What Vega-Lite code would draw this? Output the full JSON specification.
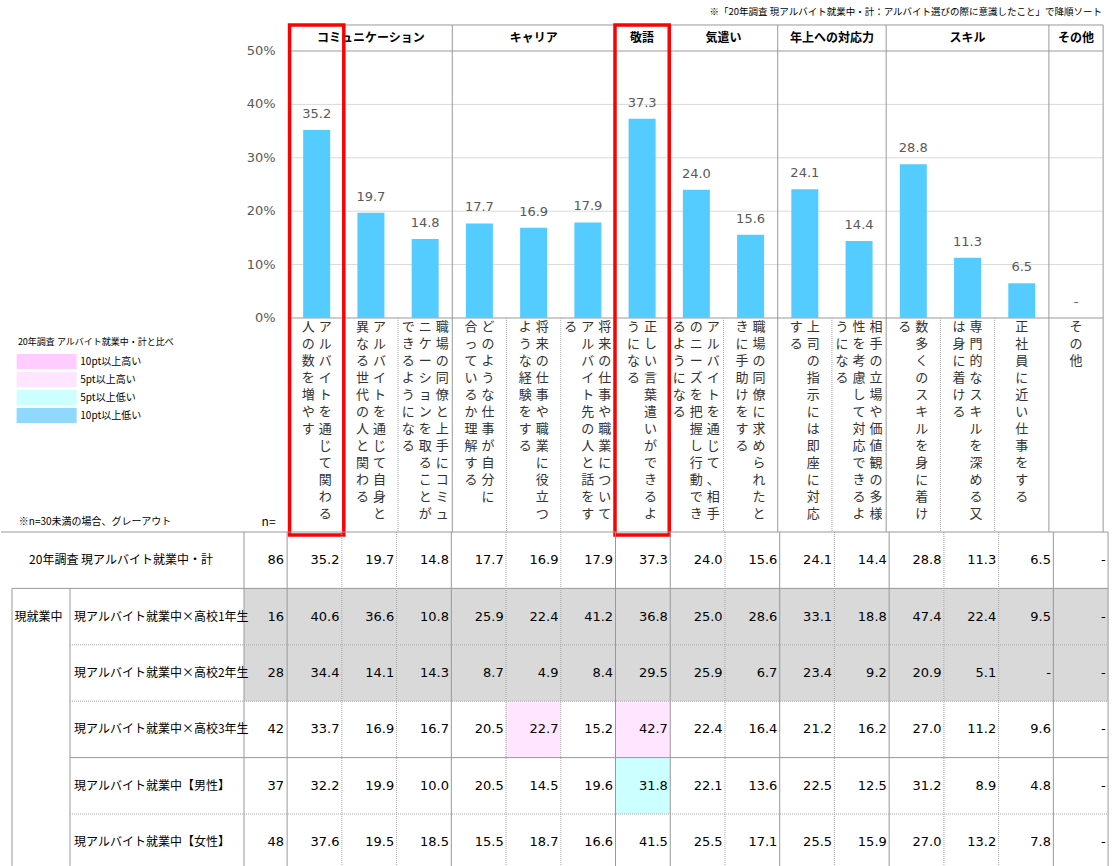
{
  "$schema": "https://vega.github.io/schema/vega-lite/v6.json",
  "padding": 0,
  "autosize": {"type": "pad"},
  "spacing": 0,
  "bounds": "flush",
  "background": "white",
  "config": {
    "view": {"stroke": null},
    "axis": {"disable": true},
    "text": {"font": "Noto Sans CJK JP"}
  },
  "datasets": {
    "items": [
      {"i": 0, "cat": "コミュニケーション", "item": "アルバイトを通じて関わる人の数を増やす"},
      {"i": 1, "cat": "コミュニケーション", "item": "アルバイトを通じて自身と異なる世代の人と関わる"},
      {"i": 2, "cat": "コミュニケーション", "item": "職場の同僚と上手にコミュニケーションを取ることができるようになる"},
      {"i": 3, "cat": "キャリア", "item": "どのような仕事が自分に合っているか理解する"},
      {"i": 4, "cat": "キャリア", "item": "将来の仕事や職業に役立つような経験をする"},
      {"i": 5, "cat": "キャリア", "item": "将来の仕事や職業についてアルバイト先の人と話をする"},
      {"i": 6, "cat": "敬語", "item": "正しい言葉遣いができるようになる"},
      {"i": 7, "cat": "気遣い", "item": "アルバイトを通じて、相手のニーズを把握し行動できるようになる"},
      {"i": 8, "cat": "気遣い", "item": "職場の同僚に求められたときに手助けをする"},
      {"i": 9, "cat": "年上への対応力", "item": "上司の指示には即座に対応する"},
      {"i": 10, "cat": "年上への対応力", "item": "相手の立場や価値観の多様性を考慮して対応できるようになる"},
      {"i": 11, "cat": "スキル", "item": "数多くのスキルを身に着ける"},
      {"i": 12, "cat": "スキル", "item": "専門的なスキルを深める又は身に着ける"},
      {"i": 13, "cat": "スキル", "item": "正社員に近い仕事をする"},
      {"i": 14, "cat": "その他", "item": "その他"}
    ],
    "vlabels": [
      {"i": 0, "n": 2, "k": 0, "t": "ア\nル\nバ\nイ\nト\nを\n通\nじ\nて\n関\nわ\nる"},
      {"i": 0, "n": 2, "k": 1, "t": "人\nの\n数\nを\n増\nや\nす"},
      {"i": 1, "n": 2, "k": 0, "t": "ア\nル\nバ\nイ\nト\nを\n通\nじ\nて\n自\n身\nと"},
      {"i": 1, "n": 2, "k": 1, "t": "異\nな\nる\n世\n代\nの\n人\nと\n関\nわ\nる"},
      {"i": 2, "n": 3, "k": 0, "t": "職\n場\nの\n同\n僚\nと\n上\n手\nに\nコ\nミ\nュ"},
      {"i": 2, "n": 3, "k": 1, "t": "ニ\nケ\nー\nシ\nョ\nン\nを\n取\nる\nこ\nと\nが"},
      {"i": 2, "n": 3, "k": 2, "t": "で\nき\nる\nよ\nう\nに\nな\nる"},
      {"i": 3, "n": 2, "k": 0, "t": "ど\nの\nよ\nう\nな\n仕\n事\nが\n自\n分\nに"},
      {"i": 3, "n": 2, "k": 1, "t": "合\nっ\nて\nい\nる\nか\n理\n解\nす\nる"},
      {"i": 4, "n": 2, "k": 0, "t": "将\n来\nの\n仕\n事\nや\n職\n業\nに\n役\n立\nつ"},
      {"i": 4, "n": 2, "k": 1, "t": "よ\nう\nな\n経\n験\nを\nす\nる"},
      {"i": 5, "n": 3, "k": 0, "t": "将\n来\nの\n仕\n事\nや\n職\n業\nに\nつ\nい\nて"},
      {"i": 5, "n": 3, "k": 1, "t": "ア\nル\nバ\nイ\nト\n先\nの\n人\nと\n話\nを\nす"},
      {"i": 5, "n": 3, "k": 2, "t": "る"},
      {"i": 6, "n": 2, "k": 0, "t": "正\nし\nい\n言\n葉\n遣\nい\nが\nで\nき\nる\nよ"},
      {"i": 6, "n": 2, "k": 1, "t": "う\nに\nな\nる"},
      {"i": 7, "n": 3, "k": 0, "t": "ア\nル\nバ\nイ\nト\nを\n通\nじ\nて\n、\n相\n手"},
      {"i": 7, "n": 3, "k": 1, "t": "の\nニ\nー\nズ\nを\n把\n握\nし\n行\n動\nで\nき"},
      {"i": 7, "n": 3, "k": 2, "t": "る\nよ\nう\nに\nな\nる"},
      {"i": 8, "n": 2, "k": 0, "t": "職\n場\nの\n同\n僚\nに\n求\nめ\nら\nれ\nた\nと"},
      {"i": 8, "n": 2, "k": 1, "t": "き\nに\n手\n助\nけ\nを\nす\nる"},
      {"i": 9, "n": 2, "k": 0, "t": "上\n司\nの\n指\n示\nに\nは\n即\n座\nに\n対\n応"},
      {"i": 9, "n": 2, "k": 1, "t": "す\nる"},
      {"i": 10, "n": 3, "k": 0, "t": "相\n手\nの\n立\n場\nや\n価\n値\n観\nの\n多\n様"},
      {"i": 10, "n": 3, "k": 1, "t": "性\nを\n考\n慮\nし\nて\n対\n応\nで\nき\nる\nよ"},
      {"i": 10, "n": 3, "k": 2, "t": "う\nに\nな\nる"},
      {"i": 11, "n": 2, "k": 0, "t": "数\n多\nく\nの\nス\nキ\nル\nを\n身\nに\n着\nけ"},
      {"i": 11, "n": 2, "k": 1, "t": "る"},
      {"i": 12, "n": 2, "k": 0, "t": "専\n門\n的\nな\nス\nキ\nル\nを\n深\nめ\nる\n又"},
      {"i": 12, "n": 2, "k": 1, "t": "は\n身\nに\n着\nけ\nる"},
      {"i": 13, "n": 1, "k": 0, "t": "正\n社\n員\nに\n近\nい\n仕\n事\nを\nす\nる"},
      {"i": 14, "n": 1, "k": 0, "t": "そ\nの\n他"}
    ],
    "rows": [
      {"r": 0, "label": "20年調査 現アルバイト就業中・計", "n": 86},
      {"r": 1, "label": "現アルバイト就業中×高校1年生", "n": 16, "grp": "現就業中"},
      {"r": 2, "label": "現アルバイト就業中×高校2年生", "n": 28},
      {"r": 3, "label": "現アルバイト就業中×高校3年生", "n": 42},
      {"r": 4, "label": "現アルバイト就業中【男性】", "n": 37},
      {"r": 5, "label": "現アルバイト就業中【女性】", "n": 48}
    ],
    "edges": [
      {"e": -0.5, "k": "cat"}, {"e": 0.5, "k": "item"}, {"e": 1.5, "k": "item"}, {"e": 2.5, "k": "cat"},
      {"e": 3.5, "k": "item"}, {"e": 4.5, "k": "item"}, {"e": 5.5, "k": "cat"}, {"e": 6.5, "k": "cat"},
      {"e": 7.5, "k": "item"}, {"e": 8.5, "k": "cat"}, {"e": 9.5, "k": "item"}, {"e": 10.5, "k": "cat"},
      {"e": 11.5, "k": "item"}, {"e": 12.5, "k": "item"}, {"e": 13.5, "k": "cat"}, {"e": 14.5, "k": "cat"}
    ],
    "ticks": [
      {"v": 0, "t": "0%"}, {"v": 10, "t": "10%"}, {"v": 20, "t": "20%"},
      {"v": 30, "t": "30%"}, {"v": 40, "t": "40%"}, {"v": 50, "t": "50%"}
    ],
    "cells": [
      {"r": 0, "i": 0, "v": 35.2}, {"r": 0, "i": 1, "v": 19.7}, {"r": 0, "i": 2, "v": 14.8}, {"r": 0, "i": 3, "v": 17.7}, {"r": 0, "i": 4, "v": 16.9},
      {"r": 0, "i": 5, "v": 17.9}, {"r": 0, "i": 6, "v": 37.3}, {"r": 0, "i": 7, "v": 24.0}, {"r": 0, "i": 8, "v": 15.6}, {"r": 0, "i": 9, "v": 24.1},
      {"r": 0, "i": 10, "v": 14.4}, {"r": 0, "i": 11, "v": 28.8}, {"r": 0, "i": 12, "v": 11.3}, {"r": 0, "i": 13, "v": 6.5}, {"r": 0, "i": 14, "v": null},
      {"r": 1, "i": 0, "v": 40.6}, {"r": 1, "i": 1, "v": 36.6}, {"r": 1, "i": 2, "v": 10.8}, {"r": 1, "i": 3, "v": 25.9}, {"r": 1, "i": 4, "v": 22.4},
      {"r": 1, "i": 5, "v": 41.2}, {"r": 1, "i": 6, "v": 36.8}, {"r": 1, "i": 7, "v": 25.0}, {"r": 1, "i": 8, "v": 28.6}, {"r": 1, "i": 9, "v": 33.1},
      {"r": 1, "i": 10, "v": 18.8}, {"r": 1, "i": 11, "v": 47.4}, {"r": 1, "i": 12, "v": 22.4}, {"r": 1, "i": 13, "v": 9.5}, {"r": 1, "i": 14, "v": null},
      {"r": 2, "i": 0, "v": 34.4}, {"r": 2, "i": 1, "v": 14.1}, {"r": 2, "i": 2, "v": 14.3}, {"r": 2, "i": 3, "v": 8.7}, {"r": 2, "i": 4, "v": 4.9},
      {"r": 2, "i": 5, "v": 8.4}, {"r": 2, "i": 6, "v": 29.5}, {"r": 2, "i": 7, "v": 25.9}, {"r": 2, "i": 8, "v": 6.7}, {"r": 2, "i": 9, "v": 23.4},
      {"r": 2, "i": 10, "v": 9.2}, {"r": 2, "i": 11, "v": 20.9}, {"r": 2, "i": 12, "v": 5.1}, {"r": 2, "i": 13, "v": null}, {"r": 2, "i": 14, "v": null},
      {"r": 3, "i": 0, "v": 33.7}, {"r": 3, "i": 1, "v": 16.9}, {"r": 3, "i": 2, "v": 16.7}, {"r": 3, "i": 3, "v": 20.5}, {"r": 3, "i": 4, "v": 22.7, "cmp": "5pt以上高い"},
      {"r": 3, "i": 5, "v": 15.2}, {"r": 3, "i": 6, "v": 42.7, "cmp": "5pt以上高い"}, {"r": 3, "i": 7, "v": 22.4}, {"r": 3, "i": 8, "v": 16.4}, {"r": 3, "i": 9, "v": 21.2},
      {"r": 3, "i": 10, "v": 16.2}, {"r": 3, "i": 11, "v": 27.0}, {"r": 3, "i": 12, "v": 11.2}, {"r": 3, "i": 13, "v": 9.6}, {"r": 3, "i": 14, "v": null},
      {"r": 4, "i": 0, "v": 32.2}, {"r": 4, "i": 1, "v": 19.9}, {"r": 4, "i": 2, "v": 10.0}, {"r": 4, "i": 3, "v": 20.5}, {"r": 4, "i": 4, "v": 14.5},
      {"r": 4, "i": 5, "v": 19.6}, {"r": 4, "i": 6, "v": 31.8, "cmp": "5pt以上低い"}, {"r": 4, "i": 7, "v": 22.1}, {"r": 4, "i": 8, "v": 13.6}, {"r": 4, "i": 9, "v": 22.5},
      {"r": 4, "i": 10, "v": 12.5}, {"r": 4, "i": 11, "v": 31.2}, {"r": 4, "i": 12, "v": 8.9}, {"r": 4, "i": 13, "v": 4.8}, {"r": 4, "i": 14, "v": null},
      {"r": 5, "i": 0, "v": 37.6}, {"r": 5, "i": 1, "v": 19.5}, {"r": 5, "i": 2, "v": 18.5}, {"r": 5, "i": 3, "v": 15.5}, {"r": 5, "i": 4, "v": 18.7},
      {"r": 5, "i": 5, "v": 16.6}, {"r": 5, "i": 6, "v": 41.5}, {"r": 5, "i": 7, "v": 25.5}, {"r": 5, "i": 8, "v": 17.1}, {"r": 5, "i": 9, "v": 25.5},
      {"r": 5, "i": 10, "v": 15.9}, {"r": 5, "i": 11, "v": 27.0}, {"r": 5, "i": 12, "v": 13.2}, {"r": 5, "i": 13, "v": 7.8}, {"r": 5, "i": 14, "v": null}
    ]
  },
  "vconcat": [
    {
      "width": 1113,
      "height": 532,
      "data": {"values": [{}]},
      "layer": [
        {
          "data": {"name": "ticks"},
          "transform": [{"filter": "datum.v > 0 && datum.v < 50"}],
          "mark": {"type": "rule", "color": "#D9D9D9", "strokeWidth": 1},
          "encoding": {
            "x": {"datum": -0.5, "type": "quantitative", "scale": {"domain": [-5.728, 14.608], "nice": false, "zero": false}},
            "x2": {"datum": 14.5},
            "y": {"field": "v", "type": "quantitative", "scale": {"domain": [-40.075, 59.551], "nice": false, "zero": false}}
          }
        },
        {
          "mark": {"type": "rule", "color": "#999999", "strokeWidth": 1},
          "encoding": {"x": {"datum": -0.5}, "x2": {"datum": 14.5}, "y": {"datum": 54.87}}
        },
        {
          "mark": {"type": "rule", "color": "#999999", "strokeWidth": 1},
          "encoding": {"x": {"datum": -0.5}, "x2": {"datum": 14.5}, "y": {"datum": 50}}
        },
        {
          "mark": {"type": "rule", "color": "#999999", "strokeWidth": 1},
          "encoding": {"x": {"datum": -0.5}, "x2": {"datum": 14.5}, "y": {"datum": 0}}
        },
        {
          "data": {"name": "edges"},
          "transform": [{"filter": "datum.k == 'cat'"}],
          "mark": {"type": "rule", "color": "#999999", "strokeWidth": 1},
          "encoding": {"x": {"field": "e", "type": "quantitative"}, "y": {"datum": 54.87}, "y2": {"datum": -40.075}}
        },
        {
          "data": {"name": "edges"},
          "transform": [{"filter": "datum.k == 'item'"}],
          "mark": {"type": "rule", "color": "#A6A6A6", "strokeWidth": 1, "strokeDash": [1, 1]},
          "encoding": {"x": {"field": "e", "type": "quantitative"}, "y": {"datum": 0}, "y2": {"datum": -40.075}}
        },
        {
          "data": {"name": "cells"},
          "transform": [{"filter": "datum.r == 0 && datum.v != null"}],
          "mark": {"type": "bar", "width": 27, "color": "#55CCFF"},
          "encoding": {
            "x": {"field": "i", "type": "quantitative"},
            "y": {"field": "v", "type": "quantitative"},
            "y2": {"datum": 0}
          }
        },
        {
          "data": {"name": "cells"},
          "transform": [{"filter": "datum.r == 0 && datum.v != null"}],
          "mark": {"type": "text", "font": "DejaVu Sans", "fontSize": 13, "color": "#595959", "baseline": "alphabetic", "dy": -12},
          "encoding": {
            "x": {"field": "i", "type": "quantitative"},
            "y": {"field": "v", "type": "quantitative"},
            "text": {"field": "v", "type": "quantitative", "format": ".1f"}
          }
        },
        {
          "data": {"name": "cells"},
          "transform": [{"filter": "datum.r == 0 && datum.v == null"}],
          "mark": {"type": "text", "font": "DejaVu Sans", "fontSize": 13, "color": "#595959", "baseline": "alphabetic", "dy": -12},
          "encoding": {
            "x": {"field": "i", "type": "quantitative"},
            "y": {"datum": 0},
            "text": {"value": "-"}
          }
        },
        {
          "data": {"name": "items"},
          "transform": [{"aggregate": [{"op": "mean", "field": "i", "as": "c"}], "groupby": ["cat"]}],
          "mark": {"type": "text", "fontSize": 12, "fontWeight": "bold", "color": "#000000", "baseline": "middle"},
          "encoding": {
            "x": {"field": "c", "type": "quantitative"},
            "y": {"datum": 52.43},
            "text": {"field": "cat", "type": "nominal"}
          }
        },
        {
          "data": {"name": "vlabels"},
          "transform": [{"filter": "datum.n == 1 || (datum.n == 3 && datum.k == 1)"}],
          "mark": {"type": "text", "fontSize": 13, "color": "#333333", "baseline": "top", "align": "center", "lineBreak": "\n", "lineHeight": 17},
          "encoding": {"x": {"field": "i", "type": "quantitative"}, "y": {"datum": -0.562}, "text": {"field": "t", "type": "nominal"}}
        },
        {
          "data": {"name": "vlabels"},
          "transform": [{"filter": "datum.n == 2 && datum.k == 0"}],
          "mark": {"type": "text", "fontSize": 13, "color": "#333333", "baseline": "top", "align": "center", "lineBreak": "\n", "lineHeight": 17, "dx": 8.5},
          "encoding": {"x": {"field": "i", "type": "quantitative"}, "y": {"datum": -0.562}, "text": {"field": "t", "type": "nominal"}}
        },
        {
          "data": {"name": "vlabels"},
          "transform": [{"filter": "datum.n == 2 && datum.k == 1"}],
          "mark": {"type": "text", "fontSize": 13, "color": "#333333", "baseline": "top", "align": "center", "lineBreak": "\n", "lineHeight": 17, "dx": -8.5},
          "encoding": {"x": {"field": "i", "type": "quantitative"}, "y": {"datum": -0.562}, "text": {"field": "t", "type": "nominal"}}
        },
        {
          "data": {"name": "vlabels"},
          "transform": [{"filter": "datum.n == 3 && datum.k == 0"}],
          "mark": {"type": "text", "fontSize": 13, "color": "#333333", "baseline": "top", "align": "center", "lineBreak": "\n", "lineHeight": 17, "dx": 17},
          "encoding": {"x": {"field": "i", "type": "quantitative"}, "y": {"datum": -0.562}, "text": {"field": "t", "type": "nominal"}}
        },
        {
          "data": {"name": "vlabels"},
          "transform": [{"filter": "datum.n == 3 && datum.k == 2"}],
          "mark": {"type": "text", "fontSize": 13, "color": "#333333", "baseline": "top", "align": "center", "lineBreak": "\n", "lineHeight": 17, "dx": -17},
          "encoding": {"x": {"field": "i", "type": "quantitative"}, "y": {"datum": -0.562}, "text": {"field": "t", "type": "nominal"}}
        },
        {
          "data": {"name": "ticks"},
          "mark": {"type": "text", "font": "DejaVu Sans", "fontSize": 13, "color": "#595959", "align": "right", "baseline": "middle"},
          "encoding": {"x": {"datum": -0.758}, "y": {"field": "v", "type": "quantitative"}, "text": {"field": "t", "type": "nominal"}}
        },
        {
          "mark": {"type": "rect", "filled": false, "color": "#FF0000", "stroke": "#FF0000", "strokeWidth": 3.5},
          "encoding": {"x": {"datum": -0.5}, "x2": {"datum": 0.5}, "y": {"datum": 54.87}, "y2": {"datum": -40.64}}
        },
        {
          "mark": {"type": "rect", "filled": false, "color": "#FF0000", "stroke": "#FF0000", "strokeWidth": 3.5},
          "encoding": {"x": {"datum": 5.5}, "x2": {"datum": 6.5}, "y": {"datum": 54.87}, "y2": {"datum": -40.64}}
        },
        {
          "mark": {"type": "text", "fontSize": 9.5, "color": "#000000", "align": "right", "baseline": "middle"},
          "encoding": {"x": {"datum": 14.48}, "y": {"datum": 57.3}, "text": {"value": "※「20年調査 現アルバイト就業中・計：アルバイト選びの際に意識したこと」で降順ソート"}}
        },
        {
          "mark": {"type": "text", "fontSize": 9, "color": "#000000", "align": "left", "baseline": "middle"},
          "encoding": {"x": {"datum": -5.509}, "y": {"datum": -4.494}, "text": {"value": "20年調査 アルバイト就業中・計と比べ"}}
        },
        {
          "mark": {"type": "tick", "orient": "vertical", "thickness": 60, "size": 15, "color": "#FFCCFF", "opacity": 1},
          "encoding": {"x": {"datum": -4.979}, "y": {"datum": -8.146}}
        },
        {
          "mark": {"type": "tick", "orient": "vertical", "thickness": 60, "size": 15, "color": "#FFE5FF", "opacity": 1},
          "encoding": {"x": {"datum": -4.979}, "y": {"datum": -11.517}}
        },
        {
          "mark": {"type": "tick", "orient": "vertical", "thickness": 60, "size": 15, "color": "#CCFFFF", "opacity": 1},
          "encoding": {"x": {"datum": -4.979}, "y": {"datum": -14.888}}
        },
        {
          "mark": {"type": "tick", "orient": "vertical", "thickness": 60, "size": 15, "color": "#8FD9FF", "opacity": 1},
          "encoding": {"x": {"datum": -4.979}, "y": {"datum": -18.258}}
        },
        {
          "mark": {"type": "text", "fontSize": 10, "color": "#000000", "align": "left", "baseline": "middle", "lineBreak": "\n", "lineHeight": 18},
          "encoding": {"x": {"datum": -4.358}, "y": {"datum": -8.146}, "text": {"value": "10pt以上高い\n5pt以上高い\n5pt以上低い\n10pt以上低い"}}
        },
        {
          "mark": {"type": "text", "fontSize": 12, "color": "#000000", "align": "right", "baseline": "middle"},
          "encoding": {"x": {"datum": -0.758}, "y": {"datum": -38.2}, "text": {"value": "n="}}
        },
        {
          "mark": {"type": "text", "fontSize": 10, "color": "#000000", "align": "left", "baseline": "middle"},
          "encoding": {"x": {"datum": -5.491}, "y": {"datum": -38.2}, "text": {"value": "※n=30未満の場合、グレーアウト"}}
        }
      ]
    },
    {
      "width": 1113,
      "height": 334,
      "data": {"values": [{}]},
      "layer": [
        {
          "data": {"name": "rows"},
          "transform": [{"filter": "datum.n < 30"}],
          "mark": {"type": "tick", "orient": "vertical", "thickness": 864, "size": 56.4, "color": "#D9D9D9", "opacity": 1},
          "encoding": {
            "x": {"datum": 6.606, "type": "quantitative", "scale": {"domain": [-5.728, 14.608], "nice": false, "zero": false}},
            "y": {"field": "r", "type": "quantitative", "scale": {"domain": [-0.5, 5.422], "reverse": true, "nice": false, "zero": false}}
          }
        },
        {
          "data": {"name": "cells"},
          "transform": [{"filter": "datum.cmp != null"}],
          "mark": {"type": "tick", "orient": "vertical", "thickness": 54.73, "size": 56.4, "opacity": 1},
          "encoding": {
            "x": {"field": "i", "type": "quantitative"},
            "y": {"field": "r", "type": "quantitative"},
            "color": {"field": "cmp", "type": "nominal", "legend": null, "scale": {"domain": ["10pt以上高い", "5pt以上高い", "5pt以上低い", "10pt以上低い"], "range": ["#FFCCFF", "#FFE5FF", "#CCFFFF", "#8FD9FF"]}}
          }
        },
        {
          "data": {"name": "edges"},
          "transform": [{"filter": "datum.k == 'cat'"}],
          "mark": {"type": "rule", "color": "#999999", "strokeWidth": 1},
          "encoding": {"x": {"field": "e", "type": "quantitative"}, "y": {"datum": -0.5}, "y2": {"datum": 5.422}}
        },
        {
          "data": {"name": "edges"},
          "transform": [{"filter": "datum.k == 'item'"}],
          "mark": {"type": "rule", "color": "#A6A6A6", "strokeWidth": 1, "strokeDash": [1, 1]},
          "encoding": {"x": {"field": "e", "type": "quantitative"}, "y": {"datum": -0.5}, "y2": {"datum": 5.422}}
        },
        {
          "mark": {"type": "rule", "color": "#999999", "strokeWidth": 1},
          "encoding": {"x": {"datum": -1.288}, "y": {"datum": -0.5}, "y2": {"datum": 5.422}}
        },
        {
          "mark": {"type": "rule", "color": "#999999", "strokeWidth": 1},
          "encoding": {"x": {"datum": -5.527}, "y": {"datum": 0.5}, "y2": {"datum": 5.422}}
        },
        {
          "mark": {"type": "rule", "color": "#999999", "strokeWidth": 1},
          "encoding": {"x": {"datum": -4.467}, "y": {"datum": 0.5}, "y2": {"datum": 5.422}}
        },
        {
          "mark": {"type": "rule", "color": "#999999", "strokeWidth": 1},
          "encoding": {"x": {"datum": -5.728}, "x2": {"datum": 14.5}, "y": {"datum": -0.5}}
        },
        {
          "mark": {"type": "rule", "color": "#999999", "strokeWidth": 1},
          "encoding": {"x": {"datum": -5.527}, "x2": {"datum": 14.5}, "y": {"datum": 0.5}}
        },
        {
          "mark": {"type": "rule", "color": "#999999", "strokeWidth": 1},
          "encoding": {"x": {"datum": -4.467}, "x2": {"datum": 14.5}, "y": {"datum": 3.5}}
        },
        {
          "mark": {"type": "rule", "color": "#A6A6A6", "strokeWidth": 1, "strokeDash": [1, 1]},
          "encoding": {"x": {"datum": -4.467}, "x2": {"datum": 14.5}, "y": {"datum": 1.5}}
        },
        {
          "mark": {"type": "rule", "color": "#A6A6A6", "strokeWidth": 1, "strokeDash": [1, 1]},
          "encoding": {"x": {"datum": -4.467}, "x2": {"datum": 14.5}, "y": {"datum": 2.5}}
        },
        {
          "mark": {"type": "rule", "color": "#A6A6A6", "strokeWidth": 1, "strokeDash": [1, 1]},
          "encoding": {"x": {"datum": -4.467}, "x2": {"datum": 14.5}, "y": {"datum": 4.5}}
        },
        {
          "data": {"name": "rows"},
          "transform": [{"filter": "datum.r == 0"}],
          "mark": {"type": "text", "fontSize": 12, "color": "#000000", "align": "center", "baseline": "middle"},
          "encoding": {"x": {"datum": -3.535}, "y": {"field": "r", "type": "quantitative"}, "text": {"field": "label", "type": "nominal"}}
        },
        {
          "data": {"name": "rows"},
          "transform": [{"filter": "datum.r > 0"}],
          "mark": {"type": "text", "fontSize": 12, "color": "#000000", "align": "left", "baseline": "middle"},
          "encoding": {"x": {"datum": -4.394}, "y": {"field": "r", "type": "quantitative"}, "text": {"field": "label", "type": "nominal"}}
        },
        {
          "data": {"name": "rows"},
          "transform": [{"filter": "datum.grp != null"}],
          "mark": {"type": "text", "fontSize": 12, "color": "#000000", "align": "left", "baseline": "middle"},
          "encoding": {"x": {"datum": -5.48}, "y": {"field": "r", "type": "quantitative"}, "text": {"field": "grp", "type": "nominal"}}
        },
        {
          "data": {"name": "rows"},
          "mark": {"type": "text", "font": "DejaVu Sans", "fontSize": 13, "color": "#000000", "align": "right", "baseline": "middle"},
          "encoding": {"x": {"datum": -0.557}, "y": {"field": "r", "type": "quantitative"}, "text": {"field": "n", "type": "quantitative"}}
        },
        {
          "data": {"name": "cells"},
          "transform": [{"filter": "datum.v != null"}],
          "mark": {"type": "text", "font": "DejaVu Sans", "fontSize": 13, "color": "#000000", "align": "right", "baseline": "middle", "dx": 25},
          "encoding": {
            "x": {"field": "i", "type": "quantitative"},
            "y": {"field": "r", "type": "quantitative"},
            "text": {"field": "v", "type": "quantitative", "format": ".1f"}
          }
        },
        {
          "data": {"name": "cells"},
          "transform": [{"filter": "datum.v == null"}],
          "mark": {"type": "text", "font": "DejaVu Sans", "fontSize": 13, "color": "#000000", "align": "right", "baseline": "middle", "dx": 25},
          "encoding": {
            "x": {"field": "i", "type": "quantitative"},
            "y": {"field": "r", "type": "quantitative"},
            "text": {"value": "-"}
          }
        }
      ]
    }
  ]
}
